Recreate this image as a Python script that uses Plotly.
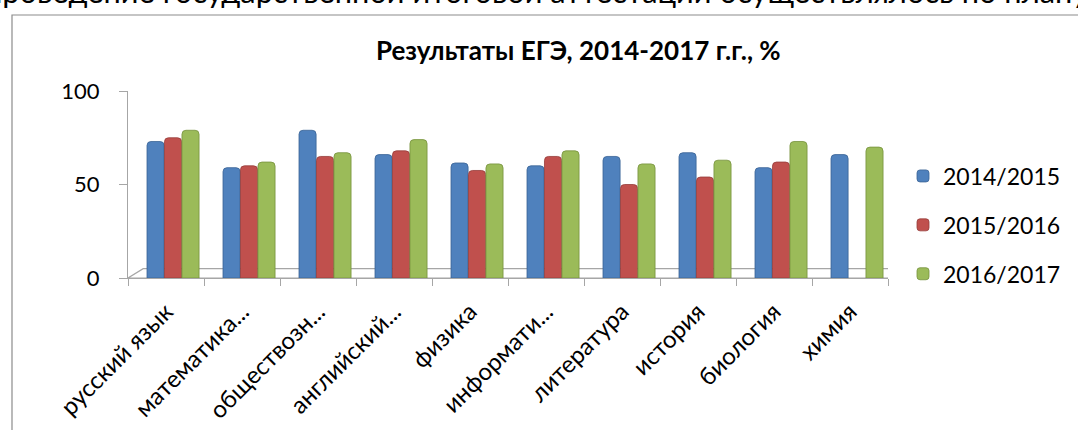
import plotly.graph_objects as go

categories = ["русский язык", "математика...", "обществозн...", "английский...", "физика",
              "информати...", "литература", "история", "биология", "химия"]
series_names = ["2014/2015", "2015/2016", "2016/2017"]
v2014 = [73, 59, 79, 66, 61.5, 60, 65, 67, 59, 66]
v2015 = [75, 60, 65, 68, 57.5, 65, 50, 54, 62, None]
v2016 = [79, 62, 67, 74, 61, 68, 61, 63, 73, 70]
colors = ["#4F81BD", "#C0504D", "#9BBB59"]
edge = ["#3A6396", "#963C3A", "#76923C"]
y_ticks = [0, 50, 100]

FONT = "Lato"
W, H = 1078, 430
L, R, T, B = 128, 190, 91, 152
pw, ph = W - L - R, H - T - B


def px_x(x):
    return (x - L) / pw


def px_y(y):
    return (H - B - y) / ph


fig = go.Figure()
offsets = [-0.25, -0.02, 0.21]
for i, (name, vals) in enumerate(zip(series_names, [v2014, v2015, v2016])):
    fig.add_trace(go.Bar(
        x=categories, y=vals, name=name,
        marker=dict(color=colors[i], line=dict(color=edge[i], width=0.8)),
        width=0.225, offset=offsets[i], legendgroup=name,
    ))

# 3D-like floor
fig.add_shape(type="path", xref="x", yref="y",
              path="M -0.5 0 L 9.5 0 L 9.7 5 L -0.3 5 Z",
              line=dict(color="#A6A6A6", width=1.2), fillcolor="rgba(0,0,0,0)", layer="below")

# chart border
fig.add_shape(type="rect", xref="paper", yref="paper",
              x0=px_x(12), x1=px_x(1200), y0=px_y(600), y1=px_y(15),
              line=dict(color="#8C8C8C", width=1.2), fillcolor="rgba(0,0,0,0)", layer="below")

fig.add_annotation(text="проведение государственной итоговой аттестации осуществлялось по плану",
                   xref="paper", yref="paper", x=px_x(-17), y=px_y(12),
                   xanchor="left", yanchor="bottom", showarrow=False,
                   font=dict(family=FONT, size=30.8, color="#000"))

fig.add_annotation(text="<b>Результаты ЕГЭ, 2014-2017 г.г., %</b>",
                   xref="paper", yref="paper", x=px_x(578), y=px_y(50),
                   xanchor="center", yanchor="middle", showarrow=False,
                   font=dict(family=FONT, size=26, color="#000"))

fig.update_layout(
    width=W, height=H,
    margin=dict(l=L, r=R, t=T, b=B, autoexpand=False),
    paper_bgcolor="white", plot_bgcolor="white",
    barmode="overlay", barcornerradius=4,
    showlegend=True,
    legend=dict(x=px_x(903), y=px_y(225), xanchor="left", yanchor="middle",
                font=dict(family=FONT, size=23, color="#000"),
                tracegroupgap=16, bgcolor="rgba(0,0,0,0)"),
    xaxis=dict(type="category", range=[-0.5, 9.5], tickangle=-45,
               tickson="boundaries", ticks="outside", ticklen=7, tickcolor="#A6A6A6",
               showline=True, linecolor="#A6A6A6", linewidth=1.2, showgrid=False,
               ticklabelstandoff=9,
               tickfont=dict(family=FONT, size=24, color="#000")),
    yaxis=dict(range=[0, 100], tickvals=y_ticks, ticks="outside", ticklen=8,
               tickcolor="#A6A6A6", showline=True, linecolor="#A6A6A6", linewidth=1.2,
               showgrid=False, zeroline=False, ticklabelstandoff=15,
               tickfont=dict(family=FONT, size=22, color="#000")),
)

fig.write_html("out.html", config={"displayModeBar": False},
               post_script="document.body.style.margin='0';document.body.style.overflow='hidden';")
